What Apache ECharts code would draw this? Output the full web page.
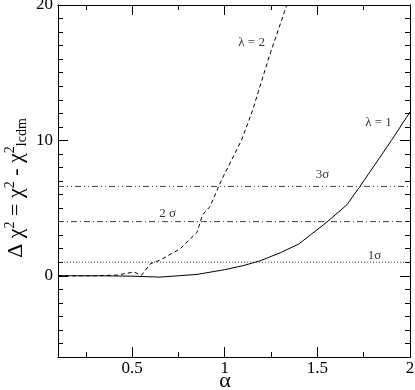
<!DOCTYPE html>
<html>
<head>
<meta charset="utf-8">
<script src="https://cdn.jsdelivr.net/npm/echarts@6/dist/echarts.min.js"></script>
<style>html,body{margin:0;padding:0;background:#fff}#c{width:415px;height:390px}</style>
</head>
<body>
<div id="c"></div>
<script>
// ---- data ----
var lambda1X = [0.1, 0.3, 0.5, 0.65, 0.85, 1.0, 1.1, 1.19, 1.3, 1.4, 1.55, 1.66, 1.73, 1.8, 1.9, 2.0];
var lambda1Y = [0.0, 0.0, -0.03, -0.1, 0.1, 0.45, 0.75, 1.1, 1.7, 2.35, 3.95, 5.25, 6.6, 8.0, 10.0, 12.1];
var lambda2X = [0.1, 0.3, 0.42, 0.51, 0.55, 0.6, 0.65, 0.76, 0.85, 0.88, 0.92, 0.98, 1.09, 1.15, 1.24, 1.335];
var lambda2Y = [0.0, 0.0, 0.05, 0.28, 0.03, 0.9, 1.15, 2.0, 3.2, 4.5, 5.1, 7.0, 10.0, 12.2, 16.2, 20.0];
var sigmaLevels = [1, 4, 6.6];
var annotTexts = ['\u03bb = 2', '\u03bb = 1', '3\u03c3', '2 \u03c3', '1\u03c3'];
var annotX = [1.145, 1.83, 1.528, 0.692, 1.808];
var annotY = [17.2, 11.3, 7.45, 4.6, 1.5];
var xMajorTicks = [0.5, 1, 1.5, 2];
var xMinorTicks = [0.25, 0.75, 1.25, 1.75];
var yMajorTicks = [0, 10, 20];
var yMinorTicks = [-5, -4, -3, -2, -1, 1, 2, 3, 4, 5, 6, 7, 8, 9, 11, 12, 13, 14, 15, 16, 17, 18, 19];
var xMin = 0.1, xMax = 2, yMin = -6, yMax = 20;

// ---- chart ----
var FONT = "'Liberation Serif', 'Times New Roman', serif";
function zip(a, b) { return a.map(function (v, i) { return [v, b[i]]; }); }

function xAx(grid, pos, ticks, len, labels, extra) {
  var o = {
    type: 'value', gridIndex: grid, position: pos, min: xMin, max: xMax,
    axisLine: { show: true, onZero: false, lineStyle: { color: '#000', width: 1 } },
    axisTick: { show: true, inside: true, length: len, customValues: ticks, lineStyle: { color: '#000' } },
    axisLabel: labels ? { show: true, customValues: ticks, fontFamily: FONT, fontSize: 17, color: '#000', margin: 3 } : { show: false },
    splitLine: { show: false }
  };
  return Object.assign(o, extra || {});
}
function yAx(grid, pos, ticks, len, labels, extra) {
  var o = {
    type: 'value', gridIndex: grid, position: pos, min: yMin, max: yMax,
    axisLine: { show: true, onZero: false, lineStyle: { color: '#000', width: 1 } },
    axisTick: { show: true, inside: true, length: len, customValues: ticks, lineStyle: { color: '#000' } },
    axisLabel: labels ? { show: true, customValues: ticks, fontFamily: FONT, fontSize: 17, color: '#000', margin: 5 } : { show: false },
    splitLine: { show: false }
  };
  return Object.assign(o, extra || {});
}

var chart = echarts.init(document.getElementById('c'), null, { renderer: 'canvas' });

var series = [
  {
    type: 'line', data: zip(lambda1X, lambda1Y), showSymbol: false, symbol: 'none',
    lineStyle: { color: '#000', width: 1, type: 'solid' }, clip: true, z: 5
  },
  {
    type: 'line', data: zip(lambda2X, lambda2Y), showSymbol: false, symbol: 'none',
    lineStyle: { color: '#000', width: 1, type: [4, 3] }, clip: true, z: 5
  }
];
var sigmaStyles = [[1, 2], [6, 3, 1, 3], [6, 3, 1, 3, 1, 3]];
sigmaLevels.forEach(function (lv, i) {
  series.push({
    type: 'line', data: [[xMin, lv], [xMax, lv]], showSymbol: false, symbol: 'none',
    lineStyle: { color: '#444', width: 1, type: sigmaStyles[i] }, z: 3
  });
});
series.push({
  type: 'scatter', symbolSize: 0, z: 6,
  data: annotTexts.map(function (t, i) { return { name: t, value: [annotX[i], annotY[i]] }; }),
  label: { show: true, position: 'inside', formatter: '{b}', fontFamily: FONT, fontSize: 13, color: '#000' }
});

var gridRect = { left: 58, right: 5, top: 5, bottom: 33, containLabel: false, outerBoundsMode: 'none' };

chart.setOption({
  animation: false,
  backgroundColor: '#fff',
  grid: [Object.assign({}, gridRect), Object.assign({}, gridRect)],
  xAxis: [
    xAx(0, 'bottom', xMajorTicks, 10, true, {
      name: '\u03b1', nameLocation: 'middle', nameGap: 13, nameMoveOverlap: false,
      nameTextStyle: { fontFamily: FONT, fontSize: 22, color: '#000', padding: [0, 18, 0, 0] }
    }),
    xAx(0, 'top', xMajorTicks, 10, false),
    xAx(1, 'bottom', xMinorTicks, 5, false),
    xAx(1, 'top', xMinorTicks, 5, false)
  ],
  yAxis: [
    yAx(0, 'left', yMajorTicks, 10, true, {
      name: '{t|\u0394 \u03c7}{sup|2}{t| = \u03c7}{sup|2}{t| - \u03c7}{sup|2}{sub|lcdm}',
      nameLocation: 'middle', nameGap: 29, nameRotate: 90, nameMoveOverlap: false,
      nameTextStyle: {
        color: '#000',
        padding: [0, 14, 0, 0],
        rich: {
          t: { fontFamily: FONT, fontSize: 22, lineHeight: 26, color: '#000' },
          sup: { fontFamily: FONT, fontSize: 14, lineHeight: 12, verticalAlign: 'top', color: '#000' },
          sub: { fontFamily: FONT, fontSize: 14, lineHeight: 12, verticalAlign: 'bottom', color: '#000' }
        }
      }
    }),
    yAx(0, 'right', yMajorTicks, 10, false),
    yAx(1, 'left', yMinorTicks, 5, false),
    yAx(1, 'right', yMinorTicks, 5, false)
  ],
  series: series
});
</script>
</body>
</html>
